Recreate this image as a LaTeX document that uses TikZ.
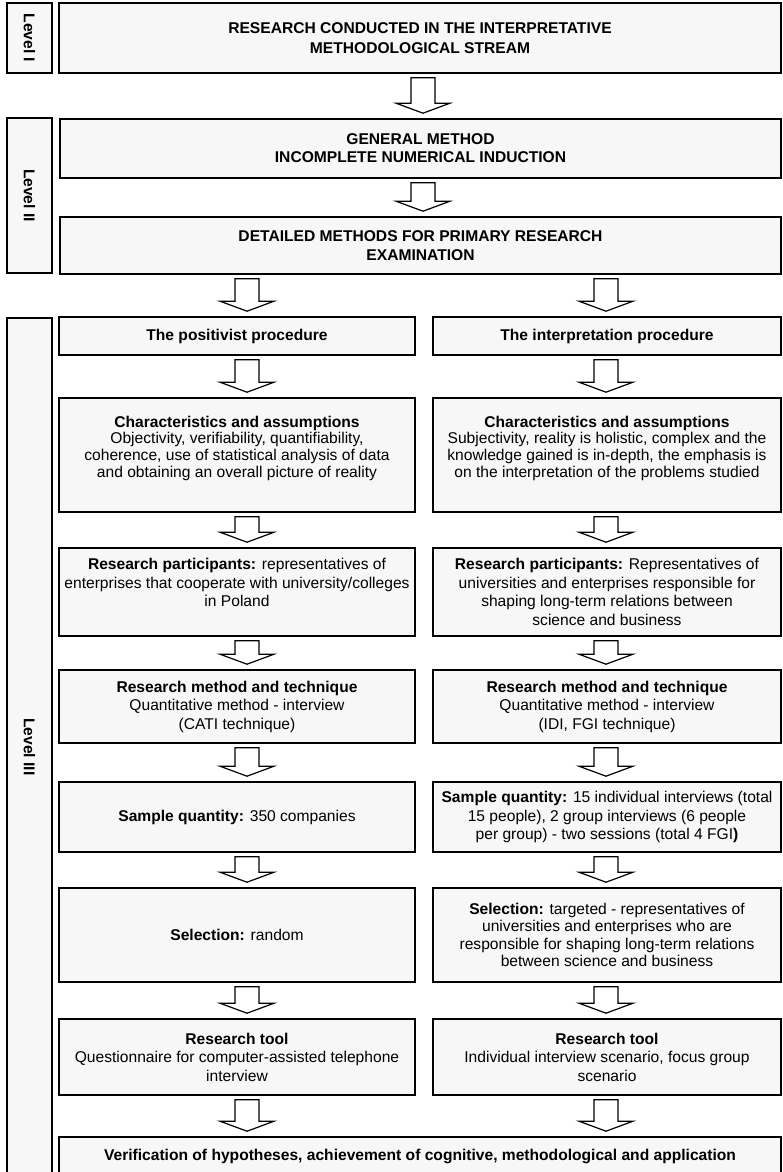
\documentclass[tikz,border=0pt]{standalone}
\usepackage{fontspec}
\setmainfont{Liberation Sans}
\usetikzlibrary{calc}

\tikzset{
  box/.style={draw=black, line width=1.6pt, fill=black!3, inner sep=0pt,
    align=center, font=\fontsize{15.6}{18.5}\selectfont},
  boldbox/.style={box, font=\bfseries\fontsize{15.6}{19.5}\selectfont},
  levelbox/.style={box, font=\bfseries\fontsize{15.6}{18}\selectfont},
  tight/.style={font=\fontsize{15.6}{16.8}\selectfont},
  blockarrow/.style={draw=black, line width=1.2pt, fill=white, line join=miter},
}

% hollow block arrow at x = #1 from node #2 down to node #3
\newcommand\fatarrow[3]{%
  \draw[blockarrow] let \p1=(#2.south), \p2=(#3.north) in
    ({#1pt-12pt},{\y1-4pt}) -- ({#1pt+12pt},{\y1-4pt}) --
    ({#1pt+12pt},{\y2+15pt}) -- ({#1pt+27pt},{\y2+15pt}) --
    ({#1pt},{\y2+5pt}) -- ({#1pt-27pt},{\y2+15pt}) --
    ({#1pt-12pt},{\y2+15pt}) -- cycle;}

\begin{document}
\begin{tikzpicture}[x=1pt, y=-1pt]
\useasboundingbox (0,0) rectangle (783,1172);
\clip (0,0) rectangle (783,1172);

% level labels
\node[levelbox, minimum width=45pt, minimum height=70pt] (lvl1) at (29.5,38) {\rotatebox{-90}{Level I}};
\node[levelbox, minimum width=45pt, minimum height=155pt] (lvl2) at (29.5,195.5) {\rotatebox{-90}{Level II}};
\node[levelbox, minimum width=45pt, minimum height=858pt] (lvl3) at (29.5,747) {\rotatebox{-90}{Level III}};

% levels I and II
\node[boldbox, minimum width=722pt, minimum height=70pt] (top) at (420,38)
  {RESEARCH CONDUCTED IN THE INTERPRETATIVE\\METHODOLOGICAL STREAM};
\node[boldbox, minimum width=721pt, minimum height=59pt, font=\bfseries\fontsize{15.6}{18}\selectfont] (gen) at (420.5,148.5)
  {GENERAL METHOD\\INCOMPLETE NUMERICAL INDUCTION};
\node[boldbox, minimum width=721pt, minimum height=57pt] (det) at (420.5,245.5)
  {DETAILED METHODS FOR PRIMARY RESEARCH\\EXAMINATION};

% level III, left column
\node[boldbox, minimum width=356pt, minimum height=38pt] (posL) at (237,336) {The positivist procedure};
\node[box, tight, minimum width=356pt, minimum height=114pt] (charL) at (237,455)
  {\textbf{Characteristics and assumptions}\\Objectivity, verifiability, quantifiability,\\coherence, use of statistical analysis of data\\and obtaining an overall picture of reality\\\mbox{}};
\node[box, minimum width=356pt, minimum height=88pt] (partL) at (237,592)
  {\textbf{Research participants:} representatives of\\enterprises that cooperate with university/colleges\\in Poland\\\mbox{}};
\node[box, minimum width=356pt, minimum height=73pt] (methL) at (237,706.5)
  {\textbf{Research method and technique}\\Quantitative method - interview\\(CATI technique)};
\node[box, minimum width=356pt, minimum height=70pt] (sampL) at (237,817)
  {\textbf{Sample quantity:} 350 companies};
\node[box, minimum width=356pt, minimum height=94pt] (selL) at (237,935)
  {\textbf{Selection:} random};
\node[box, minimum width=356pt, minimum height=76pt] (toolL) at (237,1057)
  {\textbf{Research tool}\\Questionnaire for computer-assisted telephone\\interview};

% level III, right column
\node[boldbox, minimum width=348pt, minimum height=38pt] (posR) at (607,336) {The interpretation procedure};
\node[box, tight, minimum width=348pt, minimum height=114pt] (charR) at (607,455)
  {\textbf{Characteristics and assumptions}\\Subjectivity, reality is holistic, complex and the\\knowledge gained is in-depth, the emphasis is\\on the interpretation of the problems studied\\\mbox{}};
\node[box, minimum width=348pt, minimum height=88pt] (partR) at (607,592)
  {\textbf{Research participants:} Representatives of\\universities and enterprises responsible for\\shaping long-term relations between\\science and business};
\node[box, minimum width=348pt, minimum height=73pt] (methR) at (607,706.5)
  {\textbf{Research method and technique}\\Quantitative method - interview\\(IDI, FGI technique)};
\node[box, minimum width=348pt, minimum height=70pt] (sampR) at (607,817)
  {\textbf{Sample quantity:} 15 individual interviews (total\\15 people), 2 group interviews (6 people\\per group) - two sessions (total 4 FGI\textbf{)}};
\node[box, font=\fontsize{15.6}{17.2}\selectfont, minimum width=348pt, minimum height=94pt] (selR) at (607,935)
  {\textbf{Selection:} targeted - representatives of\\universities and enterprises who are\\responsible for shaping long-term relations\\between science and business};
\node[box, minimum width=348pt, minimum height=76pt] (toolR) at (607,1057)
  {\textbf{Research tool}\\Individual interview scenario, focus group\\scenario};

% common outcome
\node[boldbox, minimum width=722pt, minimum height=38pt] (final) at (420,1156)
  {Verification of hypotheses, achievement of cognitive, methodological and application};

% block arrows
\fatarrow{423}{top}{gen}
\fatarrow{423}{gen}{det}
\fatarrow{247}{det}{posL}
\fatarrow{606}{det}{posR}
\fatarrow{247}{posL}{charL}
\fatarrow{247}{charL}{partL}
\fatarrow{247}{partL}{methL}
\fatarrow{247}{methL}{sampL}
\fatarrow{247}{sampL}{selL}
\fatarrow{247}{selL}{toolL}
\fatarrow{247}{toolL}{final}
\fatarrow{606}{posR}{charR}
\fatarrow{606}{charR}{partR}
\fatarrow{606}{partR}{methR}
\fatarrow{606}{methR}{sampR}
\fatarrow{606}{sampR}{selR}
\fatarrow{606}{selR}{toolR}
\fatarrow{606}{toolR}{final}
\end{tikzpicture}
\end{document}
